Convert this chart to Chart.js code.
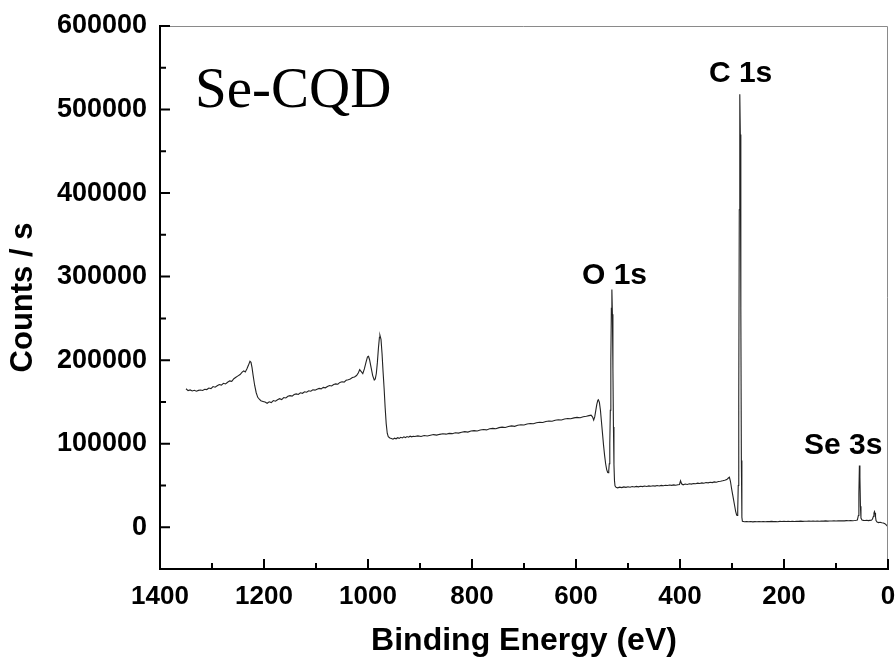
<!DOCTYPE html>
<html>
<head>
<meta charset="utf-8">
<script src="https://cdn.jsdelivr.net/npm/chart.js@4.4.0/dist/chart.umd.min.js"></script>
<style>
  body { margin: 0; background: #fff; }
  #wrap { width: 896px; height: 662px; }
</style>
</head>
<body>
<div id="wrap"><canvas id="xps" width="896" height="662"></canvas></div>
<script>
// XPS survey of Se-CQD (binding energy in eV, counts / s)
let energy = [
  1350,1346,1342,1338,1334,1330,1326,1322,1318,1314,1310,1306,1302,1298,1294,1290,1286,1282,1278,1274,
  1270,1266,1262,1258,1254,1250,1246,1242,1239,1236,1233,1230,1227,1225,1223,1221,1218,1215,1212,1209,
  1206,1202,1198,1194,1190,1186,1182,1178,1174,1170,1166,1162,1158,1154,1150,1146,1142,1138,1134,1130,
  1126,1122,1118,1114,1110,1106,1102,1098,1094,1090,1086,1082,1078,1074,1070,1066,1062,1058,1054,1050,
  1046,1042,1038,1034,1030,1026,1022,1019,1016,1013,1010,1007,1004,1001,999,997,994,991,988,986,
  984,982,980,978,977,975,973,971,969,967,965,963,961,958,955,952,949,946,943,940,
  937,934,931,928,925,922,919,916,913,910,904,898,892,886,880,874,868,862,856,850,
  844,838,832,826,820,814,808,802,796,790,784,778,772,766,760,754,748,742,736,730,
  724,718,712,706,700,694,688,682,676,670,664,658,652,646,640,634,628,622,616,610,
  604,598,592,586,580,575,571,568,566,564,562,560,558,557,555,553,551,549,547,545,
  543,541,539,538,537,536,535,534,533,532,531,530,529,528,527,526,525,523,520,516,
  512,508,504,500,496,492,488,484,480,476,472,468,464,460,456,452,448,444,440,436,
  432,428,424,420,416,412,408,404,401,399,397,394,390,386,382,378,374,370,366,362,
  358,354,350,346,342,338,334,330,326,322,318,314,310,307,305,303,301,299,297,295,
  293,291,290,289,288,287,286,285,284,283,282,281,280,276,272,268,264,260,256,252,
  248,244,240,236,232,228,224,220,216,212,208,204,200,196,192,188,184,180,176,172,
  168,164,160,156,152,148,144,140,136,132,128,124,120,116,112,108,104,100,96,92,
  88,84,80,76,72,68,64,61,59,57,56,55,54,53,52,50,47,44,41,38,
  35,32,30,28,27,26,25,24,23,21,18,15,12,9,6,4,2,1
];
let counts = [
  165800,163600,164400,163100,163900,162900,163800,164300,163700,165200,164800,166600,166000,168400,167600,169300,170800,170100,172300,171500,
  173600,175200,174600,177800,179600,181200,182800,185600,187200,185800,189400,193800,198600,197400,191000,182000,170000,161000,155500,153200,
  151400,150600,149800,148400,150200,149200,151600,150800,152600,153900,152800,155200,154700,156800,157500,156900,158800,159600,158900,161000,
  160300,162100,161600,163400,162800,164600,164100,165300,166200,165600,167400,166900,168500,169600,169100,170800,171600,171200,173400,174100,
  173700,175900,176600,177400,179200,179800,181600,184200,188600,186200,183800,189500,197000,204000,204600,200500,191000,181500,176200,177500,
  184000,197000,214000,227500,229700,225000,208000,186000,166000,143000,124000,112500,108500,106800,106200,105400,106600,105900,107200,106400,
  107600,106900,108200,107300,108500,107800,109000,108200,108900,108600,109400,108700,109800,109300,110100,110900,110300,111200,111900,111400,
  112300,112000,113100,112700,113800,114400,113900,115100,115600,115200,116400,116900,116500,117800,118300,117900,119200,119800,119400,120600,
  121300,120800,122000,122700,122300,123600,124200,123800,125000,125700,125300,126500,127200,126800,128000,128700,128300,129500,130100,129800,
  130900,131500,131100,132300,132800,133600,134200,131800,128200,132000,139500,147000,152000,152700,149500,140000,126000,112000,98000,86000,
  76000,69000,65500,65200,68000,76000,100000,140000,200000,262000,284500,255000,190000,120000,75000,56000,49500,47800,47200,48000,
  47400,48300,47700,48500,47900,48700,48100,48900,48300,49100,48600,49300,48800,49500,49000,49700,49200,49900,49400,50100,
  49700,50300,49900,50500,50100,50700,50300,50800,51200,55500,52000,50800,51700,51200,52000,51600,52400,52000,52800,52300,
  53100,52700,53500,53100,53900,53400,54300,53900,54700,55100,55600,56200,57000,58900,59800,55000,47000,40000,33000,26000,
  19000,14500,14000,20000,50000,150000,380000,518400,470000,260000,80000,12000,7000,6600,6900,6500,6800,6400,6700,6500,
  6900,6600,6800,6500,6900,6700,7000,6700,6900,6600,7000,6800,7100,6800,7000,6900,7200,6900,7100,7000,
  7300,7000,7200,7100,7400,7100,7300,7200,7500,7200,7400,7300,7600,7300,7500,7400,7700,7500,7700,7600,
  7800,7600,7900,7700,7900,7800,8000,8300,8600,14000,40000,74000,60000,25000,11000,8600,8200,8000,8300,7900,
  8200,8400,9500,13000,17000,18800,17000,12500,8000,6200,5500,6000,5400,5000,4200,3000,1800,1000
];

// peak names and where they sit (eV, counts)
let peakNames = ["O 1s", "C 1s", "Se 3s"];
let peakLabelE = [526, 283.5, 86];
let peakLabelC = [291700, 533300, 87100];

let points = energy.map(function(e, i){ return {x: e, y: counts[i]}; });

let sans = "'Liberation Sans', Arial, sans-serif";

// inward ticks, the thin top/right frame, and the text on the plot
let decor = {
  id: "decor",
  afterDraw: function(chart){
    let ctx = chart.ctx;
    let a = chart.chartArea;
    let xs = chart.scales.x;
    let ys = chart.scales.y;
    ctx.save();

    ctx.strokeStyle = "#8a8a8a";
    ctx.lineWidth = 1;
    ctx.beginPath();
    ctx.moveTo(a.left, a.top + 0.5);
    ctx.lineTo(a.right - 0.5, a.top + 0.5);
    ctx.lineTo(a.right - 0.5, a.bottom);
    ctx.stroke();

    ctx.strokeStyle = "#000";
    ctx.lineWidth = 2;
    ctx.beginPath();
    xs.ticks.forEach(function(t){
      let px = xs.getPixelForValue(t.value);
      let len = (t.value % 200 === 0) ? 10 : 6;
      ctx.moveTo(px, a.bottom);
      ctx.lineTo(px, a.bottom - len);
    });
    ys.ticks.forEach(function(t){
      if (t.value < 0) return;
      let py = ys.getPixelForValue(t.value);
      let len = (t.value % 100000 === 0) ? 10 : 6;
      ctx.moveTo(a.left, py);
      ctx.lineTo(a.left + len, py);
    });
    ctx.stroke();

    ctx.fillStyle = "#000";
    ctx.font = "bold 30px " + sans;
    ctx.textAlign = "center";
    ctx.textBaseline = "alphabetic";
    for (let i = 0; i < peakNames.length; i++) {
      ctx.fillText(peakNames[i], xs.getPixelForValue(peakLabelE[i]), ys.getPixelForValue(peakLabelC[i]));
    }

    ctx.font = "57px 'Liberation Serif', 'Times New Roman', serif";
    ctx.textAlign = "left";
    ctx.fillText("Se-CQD", a.left + 35, a.top + 81);
    ctx.restore();
  }
};

new Chart(document.getElementById("xps"), {
  type: "line",
  data: {
    datasets: [{
      data: points,
      borderColor: "#222",
      borderWidth: 1.1,
      pointRadius: 0,
      tension: 0,
      fill: false
    }]
  },
  options: {
    responsive: false,
    animation: false,
    layout: { padding: { top: 26, right: 8, left: 0, bottom: 0 } },
    plugins: { legend: { display: false }, tooltip: { enabled: false } },
    scales: {
      x: {
        type: "linear",
        reverse: true,
        min: 0,
        max: 1400,
        afterFit: function(s){ s.height = 93; s.paddingLeft = 0; s.paddingRight = 0; },
        grid: { display: false, drawTicks: false },
        border: { display: true, color: "#000", width: 2 },
        ticks: {
          stepSize: 100,
          autoSkip: false,
          maxRotation: 0,
          padding: 12,
          color: "#000",
          font: { family: sans, size: 26, weight: "bold" },
          callback: function(v){ return v % 200 === 0 ? String(v) : ""; }
        },
        title: {
          display: true,
          text: "Binding Energy (eV)",
          color: "#000",
          padding: { top: 0, bottom: 2 },
          font: { family: sans, size: 32, weight: "bold" }
        }
      },
      y: {
        min: -50000,
        max: 600000,
        afterFit: function(s){ s.width = 160; s.paddingTop = 0; s.paddingBottom = 0; },
        grid: { display: false, drawTicks: false },
        border: { display: true, color: "#000", width: 2 },
        ticks: {
          stepSize: 50000,
          autoSkip: false,
          padding: 13,
          color: "#000",
          font: { family: sans, size: 27, weight: "bold" },
          callback: function(v){ return v % 100000 === 0 ? String(v) : ""; }
        },
        title: {
          display: true,
          text: "Counts / s",
          color: "#000",
          padding: { top: 5, bottom: 0 },
          font: { family: sans, size: 31, weight: "bold" }
        }
      }
    }
  },
  plugins: [decor]
});
</script>
</body>
</html>
